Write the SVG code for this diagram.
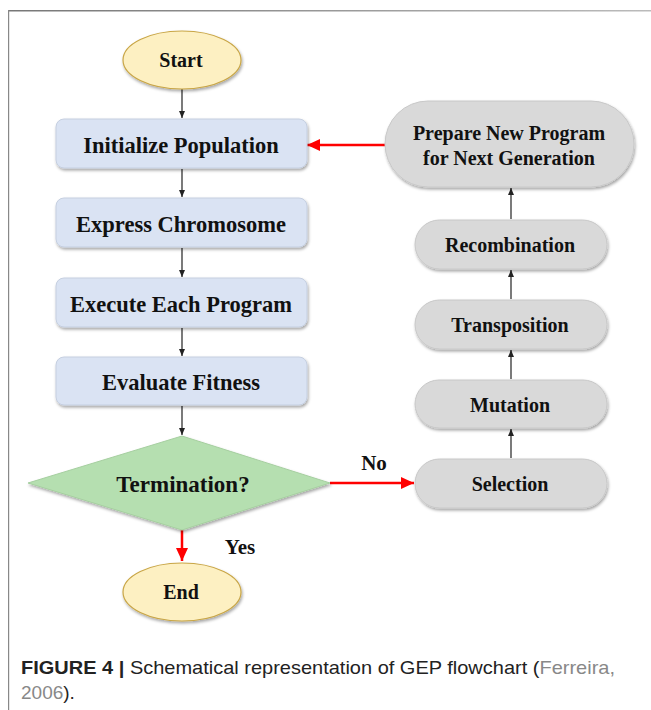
<svg xmlns="http://www.w3.org/2000/svg" width="651" height="710" viewBox="0 0 651 710">
<defs>
<style>
.t{font-family:"Liberation Serif","Times New Roman",serif;font-weight:bold;font-size:22.5px;fill:#111;text-anchor:middle;dominant-baseline:central}
.s{font-size:20px}
.box{fill:#dae3f3;stroke:#c5cfe0;stroke-width:1}
.grey{fill:#d9d9d9;stroke:#c8c8c8;stroke-width:1}
.oval{fill:#fdf0c2;stroke:#c9a646;stroke-width:1.2}
.k{stroke:#222;stroke-width:1.2;fill:none}
.r{stroke:#f00;stroke-width:2.5;fill:none}
.cap{font-family:"Liberation Sans",Arial,sans-serif;font-size:19px;fill:#222}
</style>
<filter id="sh" x="-10%" y="-10%" width="130%" height="140%">
<feDropShadow dx="1" dy="2" stdDeviation="1.5" flood-color="#000" flood-opacity="0.35"/>
</filter>
<marker id="ak" markerWidth="8" markerHeight="8" refX="7" refY="4" orient="auto" markerUnits="userSpaceOnUse">
<path d="M0,1 L7,4 L0,7 Z" fill="#222"/>
</marker>
<marker id="ar" markerWidth="14" markerHeight="12" refX="13" refY="6" orient="auto" markerUnits="userSpaceOnUse">
<path d="M0,0 L13,6 L0,12 Z" fill="#f00"/>
</marker>
<linearGradient id="fl" x1="0" x2="1">
<stop offset="0" stop-color="#777"/>
<stop offset="1" stop-color="#bbb"/>
</linearGradient>
</defs>
<rect width="651" height="710" fill="#fff"/>
<g id="frame">
<rect x="8" y="10" width="643" height="1.5" fill="url(#fl)"/>
<rect x="8" y="10" width="1.2" height="700" fill="#888"/>
</g>
<g id="connectors">
<line class="k" x1="182" y1="89" x2="182" y2="118" marker-end="url(#ak)"/>
<line class="k" x1="182" y1="169" x2="182" y2="197" marker-end="url(#ak)"/>
<line class="k" x1="182" y1="248" x2="182" y2="277" marker-end="url(#ak)"/>
<line class="k" x1="182" y1="328" x2="182" y2="356" marker-end="url(#ak)"/>
<line class="k" x1="182" y1="406" x2="182" y2="435" marker-end="url(#ak)"/>
<line class="r" x1="182" y1="530" x2="182" y2="561" marker-end="url(#ar)"/>
<line class="r" x1="330" y1="483" x2="414" y2="483" marker-end="url(#ar)"/>
<line class="r" x1="385" y1="145" x2="307" y2="145" marker-end="url(#ar)"/>
<line class="k" x1="511" y1="458" x2="511" y2="429" marker-end="url(#ak)"/>
<line class="k" x1="511" y1="379" x2="511" y2="350" marker-end="url(#ak)"/>
<line class="k" x1="511" y1="299" x2="511" y2="270" marker-end="url(#ak)"/>
<line class="k" x1="511" y1="219" x2="511" y2="188" marker-end="url(#ak)"/>
<text class="t" x="240" y="547" style="font-size:21px">Yes</text>
<text class="t" x="374" y="463" style="font-size:21px">No</text>
</g>
<g id="start">
<ellipse class="oval" cx="182" cy="60" rx="59" ry="29" filter="url(#sh)"/>
<text class="t s" x="181" y="60">Start</text>
</g>
<g id="init">
<rect class="box" x="56" y="119" width="251" height="49" rx="8" filter="url(#sh)"/>
<text class="t" x="181" y="145">Initialize Population</text>
</g>
<g id="express">
<rect class="box" x="56" y="198" width="251" height="49" rx="8" filter="url(#sh)"/>
<text class="t" x="181" y="224">Express Chromosome</text>
</g>
<g id="execute">
<rect class="box" x="56" y="278" width="251" height="49" rx="8" filter="url(#sh)"/>
<text class="t" x="181" y="304">Execute Each Program</text>
</g>
<g id="evaluate">
<rect class="box" x="56" y="357" width="251" height="48" rx="8" filter="url(#sh)"/>
<text class="t" x="181" y="382">Evaluate Fitness</text>
</g>
<g id="termination">
<polygon points="182,436 330,483 182,530 28,483" fill="#b5dfb0" stroke="#a6cfa0" stroke-width="1" filter="url(#sh)"/>
<text class="t" x="183" y="484" style="font-size:23px">Termination?</text>
</g>
<g id="end">
<ellipse class="oval" cx="182" cy="592" rx="59" ry="29" filter="url(#sh)"/>
<text class="t s" x="181" y="592">End</text>
</g>
<g id="selection">
<rect class="grey" x="415" y="459" width="192" height="49" rx="24.5" filter="url(#sh)"/>
<text class="t s" x="510" y="484">Selection</text>
</g>
<g id="mutation">
<rect class="grey" x="415" y="380" width="192" height="48" rx="24" filter="url(#sh)"/>
<text class="t s" x="510" y="405">Mutation</text>
</g>
<g id="transposition">
<rect class="grey" x="415" y="300" width="192" height="49" rx="24.5" filter="url(#sh)"/>
<text class="t s" x="510" y="325">Transposition</text>
</g>
<g id="recombination">
<rect class="grey" x="415" y="220" width="192" height="49" rx="24.5" filter="url(#sh)"/>
<text class="t s" x="510" y="245">Recombination</text>
</g>
<g id="prepare">
<rect class="grey" x="385" y="101" width="249" height="86" rx="43" filter="url(#sh)"/>
<text class="t s" x="509" y="133">Prepare New Program</text>
<text class="t s" x="509" y="158">for Next Generation</text>
</g>
<g id="caption">
<text class="cap" x="21" y="674" textLength="594" lengthAdjust="spacingAndGlyphs"><tspan font-weight="bold">FIGURE 4 |</tspan> Schematical representation of GEP flowchart (<tspan fill="#888">Ferreira,</tspan></text>
<text class="cap" x="21" y="699"><tspan fill="#888">2006</tspan>).</text>
</g>
</svg>
